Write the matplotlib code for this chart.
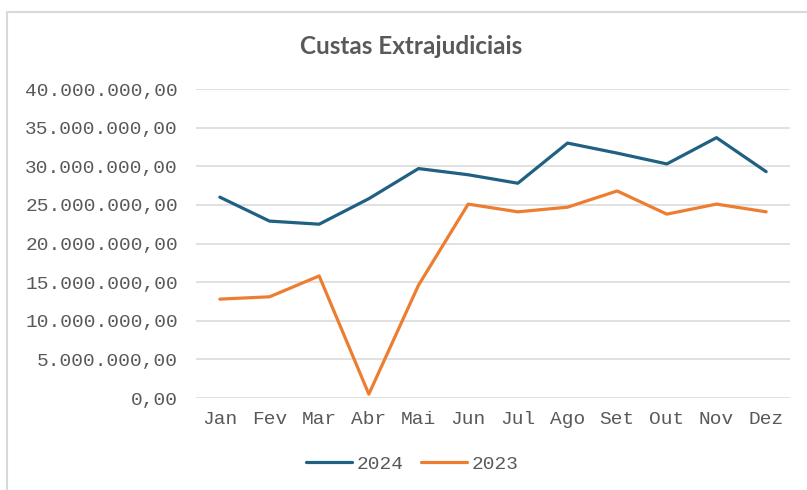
import matplotlib
matplotlib.use("Agg")
import matplotlib.pyplot as plt
from matplotlib.patches import Rectangle
from matplotlib.ticker import FuncFormatter

months = ["Jan", "Fev", "Mar", "Abr", "Mai", "Jun",
          "Jul", "Ago", "Set", "Out", "Nov", "Dez"]
custas_2024 = [26.0, 22.9, 22.5, 25.8, 29.7, 28.9,
               27.8, 33.0, 31.7, 30.3, 33.7, 29.3]
custas_2023 = [12.8, 13.1, 15.8, 0.5, 14.6, 25.1,
               24.1, 24.7, 26.8, 23.8, 25.1, 24.1]
y_ticks = [0, 5, 10, 15, 20, 25, 30, 35, 40]

BLUE = "#1F6083"
ORANGE = "#ED7D31"
GRAY = "#595959"
GRID = "#D9D9D9"
MONO = "Liberation Mono"


def br_format(v, pos=None):
    # 12345678.9 -> 12.345.678,90
    s = f"{v * 1e6:,.2f}"
    return s.replace(",", "X").replace(".", ",").replace("X", ".")


fig = plt.figure(figsize=(8.07, 4.90), dpi=100)
ax = fig.add_axes([196 / 807, 1 - 398 / 490, (790 - 196) / 807, (398 - 89) / 490])

x = list(range(len(months)))
ax.plot(x, custas_2024, color=BLUE, lw=2.3, label="2024", solid_capstyle="round")
ax.plot(x, custas_2023, color=ORANGE, lw=2.3, label="2023", solid_capstyle="round")

ax.set_xlim(-0.48, 11.48)
ax.set_ylim(0, 40)
ax.set_yticks(y_ticks)
ax.yaxis.set_major_formatter(FuncFormatter(br_format))
ax.set_xticks(x)
ax.set_xticklabels(months)

ax.grid(axis="y", color=GRID, lw=1.1)
ax.set_axisbelow(True)
for sp in ax.spines.values():
    sp.set_visible(False)
ax.tick_params(length=0, labelsize=14, labelcolor=GRAY)
ax.tick_params(axis="y", pad=13)
ax.tick_params(axis="x", pad=9)
for lbl in ax.get_xticklabels() + ax.get_yticklabels():
    lbl.set_fontfamily(MONO)

fig.text(411 / 807, 1 - 46 / 490, "Custas Extrajudiciais", ha="center", va="center",
         fontsize=17.5, fontweight="bold", color=GRAY, family="Lato")

leg = fig.legend(loc="center", bbox_to_anchor=(412 / 807, 1 - 464 / 490), ncol=2,
                 frameon=False, handlelength=2.4, handletextpad=0.2, columnspacing=0.9,
                 prop={"family": MONO, "size": 14})
for t in leg.get_texts():
    t.set_color(GRAY)

# chart area border (only left and top edges fall inside the image)
fig.patches.append(Rectangle((7 / 807, -0.1), 1.2, 1 - 12 / 490 + 0.1,
                             transform=fig.transFigure, fill=False,
                             edgecolor=GRID, lw=1.5))

fig.savefig("out.png", dpi=100)
